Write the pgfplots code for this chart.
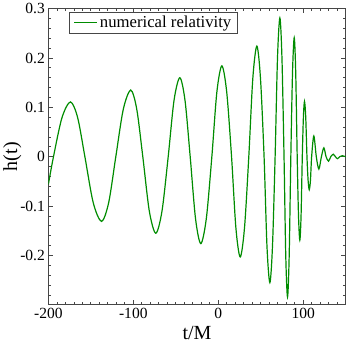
\documentclass[border=0pt]{standalone}
\usepackage{fontspec}
\setmainfont{Liberation Serif}
\usepackage{pgfplots}
\pgfplotsset{compat=1.18}
\definecolor{nrgreen}{RGB}{0,140,0}
\definecolor{framegray}{RGB}{70,70,70}

\begin{document}
\begin{tikzpicture}
\begin{axis}[
  width=297pt, height=296pt, scale only axis,
  xmin=-200, xmax=150, ymin=-0.3, ymax=0.3,
  xtick={-200,-100,0,100},
  ytick={-0.2,-0.1,0,0.1,0.2,0.3},
  minor xtick={-190,-180,...,140},
  minor ytick={-0.28,-0.26,-0.24,-0.22,-0.18,-0.16,-0.14,-0.12,-0.08,-0.06,-0.04,-0.02,0.02,0.04,0.06,0.08,0.12,0.14,0.16,0.18,0.22,0.24,0.26,0.28},
  tick pos=both, tick align=inside,
  major tick length=4.5pt, minor tick length=2.5pt,
  every tick/.style={framegray, line width=0.7pt},
  axis line style={framegray, line width=0.8pt},
  /pgf/number format/assume math mode=true,
  tick label style={font=\fontsize{15.5}{16}\selectfont},
  label style={font=\fontsize{20}{22}\selectfont},
  xlabel={t/M}, ylabel={h(t)},
  xlabel style={at={(axis description cs:0.5,-0.095)}, anchor=center},
  ylabel style={at={(axis description cs:-0.121,0.5)}, anchor=center},
  legend style={at={(axis description cs:0.0707,0.99)}, anchor=north west,
    draw=framegray, line width=0.7pt, inner xsep=4pt, inner ysep=2pt,
    font=\fontsize{16.7}{18}\selectfont},
  legend image code/.code={\draw[#1] (0pt,0pt) -- (23pt,0pt);},
  legend cell align=left,
]
% waveform: extrema, zero crossings and half-way points
\addplot[nrgreen, line width=1.2pt, smooth] coordinates {
(-200,-0.056) (-194,0) (-184,0.079) (-174,0.111) (-165.5,0.079) (-157,0)
(-147.2,-0.093) (-137.4,-0.131) (-129,-0.093) (-120.6,0)
(-111.8,0.096) (-103,0.135) (-95.9,0.096) (-88.8,0)
(-81.15,-0.110) (-73.5,-0.155) (-66.2,-0.110) (-58.9,0)
(-52.05,0.114) (-45.2,0.160) (-39.1,0.114) (-33,0)
(-26.75,-0.125) (-20.5,-0.176) (-14,-0.125) (-7.5,0)
(-1.6,0.131) (4.3,0.184) (10,0.131) (15.7,0)
(20.8,-0.144) (25.9,-0.203) (30.95,-0.144) (36,0)
(40.75,0.159) (45.5,0.224) (49.75,0.159) (54,0)
(57.4,-0.181) (60.8,-0.255) (63.9,-0.181) (67,0)
(69.8,0.200) (72.6,0.281) (75.05,0.200) (77.5,0)
(79.55,-0.202) (81.6,-0.284) (83.55,-0.202) (85.5,0)
(87.5,0.171) (89.5,0.241) (91.25,0.171) (93,0)
(94.55,-0.120) (96.1,-0.169) (97.55,-0.120) (99,0)
(100.3,0.080) (101.6,0.112) (103.05,0.080) (104.5,0)
(105.85,-0.048) (107.2,-0.067) (108.6,-0.048) (110,0)
(112.6,0.042) (115.5,0) (118.5,-0.025) (121.5,0) (124.4,0.018) (127,0)
(129.9,-0.009) (132.5,0) (135.4,0.005) (138,0) (140.5,-0.004) (143,0)
(146,0.002) (150,0)
};
\addlegendentry{numerical relativity}
\end{axis}
\end{tikzpicture}
\end{document}
